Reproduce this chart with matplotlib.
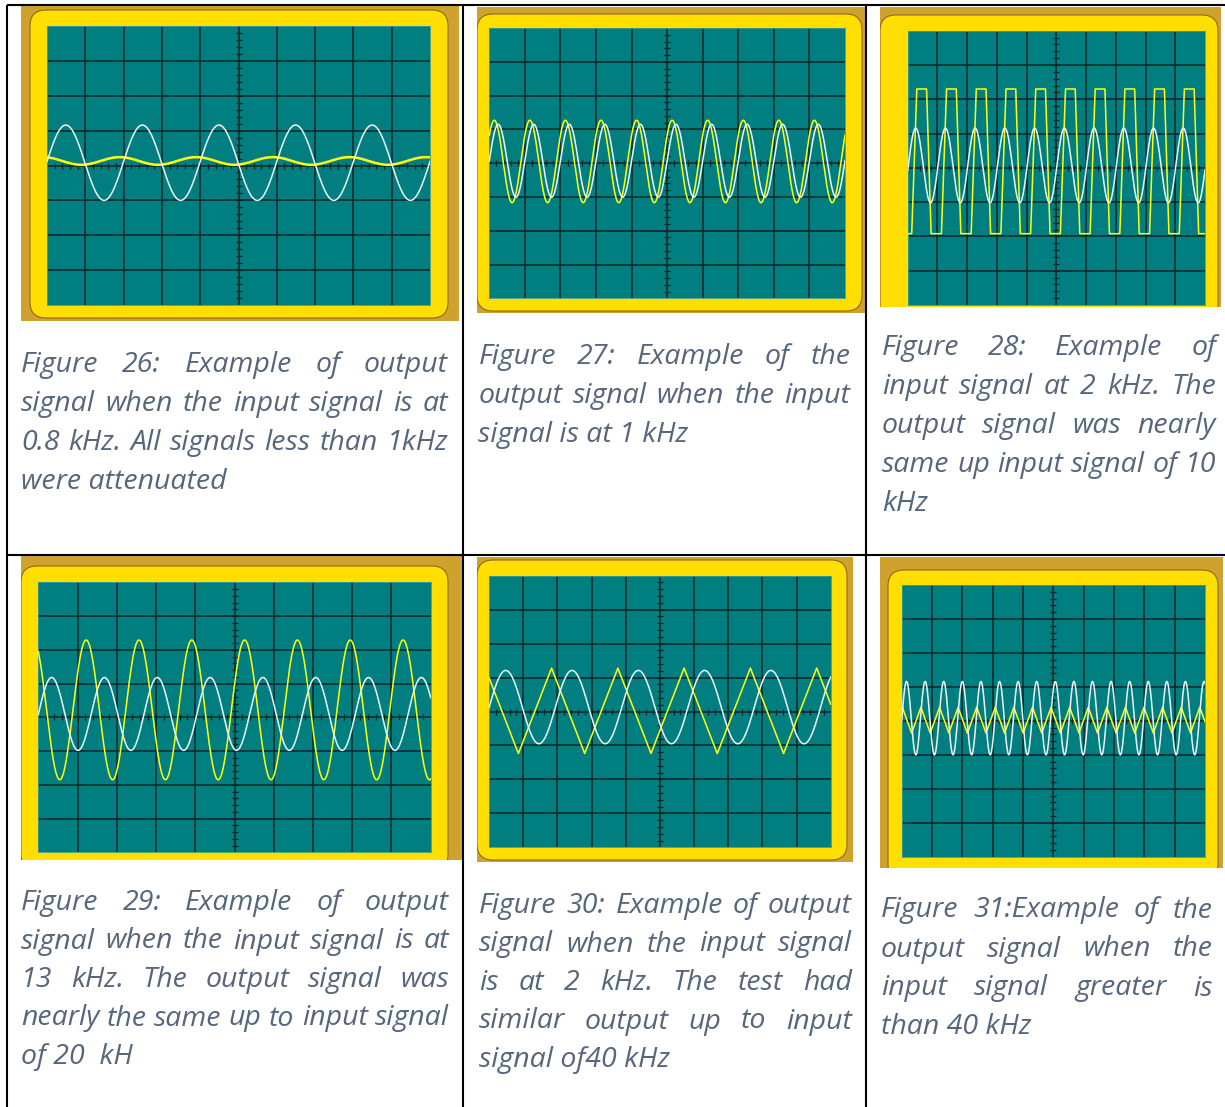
import numpy as np
import matplotlib
matplotlib.use("Agg")
import matplotlib.pyplot as plt
from matplotlib.patches import Rectangle, FancyBboxPatch
from matplotlib.font_manager import FontProperties

W, H = 1225, 1107

# ---------------- data (screen divisions) ----------------
figure_numbers = [26, 27, 28, 29, 30, 31]

# white trace (input signal): sine
white_amp = [1.08, 1.08, 1.09, 1.08, 1.08, 1.08]
white_offset = [0.08, 0.07, 0.07, 0.10, 0.13, 0.08]
white_period = [2.0, 1.0, 1.0, 1.346, 1.94, 0.613]
white_first_peak = [0.49, 0.25, 0.27, 0.34, 0.49, 0.16]

# yellow trace (output signal)
yellow_shape = ["sine", "sine", "trapezoid", "sine", "triangle", "triangle"]
yellow_amp = [0.11, 1.22, 2.11, 2.07, 1.26, 0.38]
yellow_offset = [0.13, 0.05, 0.19, 0.22, 0.02, 0.02]
yellow_period = [2.0, 1.0, 1.0, 1.346, 1.94, 0.613]
yellow_first_peak = [1.90, 0.14, 0.47, 1.22, 1.83, 0.02]

captions = [
    ["Figure 26: Example of output",
     "signal when the input signal is at",
     "0.8 kHz. All signals less than 1kHz",
     "were attenuated"],
    ["Figure 27: Example of the",
     "output signal when the input",
     "signal is at 1 kHz"],
    ["Figure 28: Example of",
     "input signal at 2 kHz.  The",
     "output signal was nearly",
     "same up input signal of 10",
     "kHz"],
    ["Figure 29: Example of output",
     "signal when the input signal is at",
     "13 kHz. The output signal was",
     "nearly the same up to input signal",
     "of 20  kH"],
    ["Figure 30: Example of output",
     "signal when the input signal",
     "is at 2 kHz. The test had",
     "similar output up to input",
     "signal of40 kHz"],
    ["Figure 31:Example of the",
     "output signal when the",
     "input signal greater is",
     "than 40 kHz"],
]

# ---------------- layout (pixels) ----------------
layout = [
    dict(gold=(21, 459, 6, 321), yellow=(30, 448, 10, 318), screen=(47, 430, 26, 305),
         text=(21, 448, 372, 39)),
    dict(gold=(477, 866, 7, 313), yellow=(477, 862, 14, 311), screen=(489.3, 845, 28, 298.3),
         text=(478.5, 850.5, 364, 39)),
    dict(gold=(880, 1221, 7, 307), yellow=(880, 1218, 15, 330), screen=(907.7, 1205, 30.7, 305),
         text=(882, 1216, 355, 39)),
    dict(gold=(21, 462, 556, 860), yellow=(21, 448, 566, 870), screen=(38.3, 430.7, 582.3, 852.3),
         text=(21, 449, 910, 38.5)),
    dict(gold=(477, 853, 557, 862), yellow=(477, 847, 560, 860), screen=(489, 830.7, 575.7, 847.3),
         text=(479, 852, 913, 38.5)),
    dict(gold=(880, 1223, 557, 868), yellow=(888, 1218, 570, 880), screen=(901.7, 1205, 585, 856.7),
         text=(881, 1213, 917.5, 39)),
]

GOLD = "#CFA12E"
GOLD_EDGE = "#8C6C1C"
YELLOW = "#FFDE00"
TEAL = "#017F80"
GRID = "#0E2626"
TRACE_W = "#EEF3F3"
TRACE_Y = "#FFFF10"
TEXT_C = "#56667B"


def shape_values(kind, u):
    u = np.mod(u, 1.0)
    if kind == "sine":
        return np.cos(2 * np.pi * u)
    if kind == "triangle":
        return np.interp(u, [0.0, 0.5, 1.0], [1.0, -1.0, 1.0])
    # trapezoid (clipped square)
    return np.interp(u, [0.0, 0.165, 0.315, 0.665, 0.835, 1.0],
                     [1.0, 1.0, -1.0, -1.0, 1.0, 1.0])


fig = plt.figure(figsize=(W / 100, H / 100), dpi=100)
fig.patch.set_facecolor("white")
bg = fig.add_axes([0, 0, 1, 1])
bg.set_xlim(0, W)
bg.set_ylim(H, 0)
bg.axis("off")

# table lines
tbl = dict(color="black", lw=1.5, solid_capstyle="butt", zorder=5)
bg.plot([7, W], [5, 5], **tbl)
bg.plot([7, W], [555, 555], **tbl)
for xv in [7, 463, 866]:
    bg.plot([xv, xv], [5, H], **tbl)

# frames and screens
for i, L in enumerate(layout):
    gx0, gx1, gy0, gy1 = L["gold"]
    gold = Rectangle((gx0, gy0), gx1 - gx0, gy1 - gy0, facecolor=GOLD,
                     edgecolor="none", zorder=1)
    bg.add_patch(gold)
    yx0, yx1, yy0, yy1 = L["yellow"]
    yel = FancyBboxPatch((yx0, yy0), yx1 - yx0, yy1 - yy0,
                         boxstyle="round,pad=0,rounding_size=16",
                         facecolor=YELLOW, edgecolor=GOLD_EDGE, lw=0.8, zorder=2)
    bg.add_patch(yel)
    yel.set_clip_path(gold)

    sx0, sx1, sy0, sy1 = L["screen"]
    ax = fig.add_axes([sx0 / W, 1 - sy1 / H, (sx1 - sx0) / W, (sy1 - sy0) / H])
    ax.set_facecolor(TEAL)
    ax.set_xlim(0, 10)
    ax.set_ylim(-4, 4)
    ax.set_xticks([])
    ax.set_yticks([])
    for s in ax.spines.values():
        s.set_color("#3C9C94")
        s.set_linewidth(0.6)
    for k in range(1, 10):
        ax.axvline(k, color=GRID, lw=1.1, zorder=1)
    for k in range(-3, 4):
        ax.axhline(k, color=GRID, lw=1.1, zorder=1)
    xt = np.arange(1, 50) * 0.2
    yt = np.arange(-19, 20) * 0.2
    ax.plot(xt, np.zeros_like(xt), ls="none", marker="|", ms=4, mew=0.9,
            color=GRID, zorder=1)
    ax.plot(np.full_like(yt, 5.0), yt, ls="none", marker="_", ms=4, mew=0.9,
            color=GRID, zorder=1)

    x = np.linspace(0, 10, 3000)
    yw = white_offset[i] + white_amp[i] * shape_values(
        "sine", (x - white_first_peak[i]) / white_period[i])
    yy = yellow_offset[i] + yellow_amp[i] * shape_values(
        yellow_shape[i], (x - yellow_first_peak[i]) / yellow_period[i])
    ylw = 1.8 if i == 0 else 1.1
    ax.plot(x, yy, color=TRACE_Y, lw=ylw, zorder=3)
    ax.plot(x, yw, color=TRACE_W, lw=1.1, zorder=4)

# captions (justified)
fp = FontProperties(family=["Open Sans", "DejaVu Sans"], style="italic",
                    weight="normal", size=20.5)
renderer = fig.canvas.get_renderer()


def width_of(s):
    t = bg.text(0, 0, s, fontproperties=fp)
    w = t.get_window_extent(renderer).width
    t.remove()
    return w


for i, L in enumerate(layout):
    tx0, tx1, base, step = L["text"]
    lines = captions[i]
    for j, line in enumerate(lines):
        yb = base + j * step
        if j == len(lines) - 1:
            bg.text(tx0, yb, line, fontproperties=fp, color=TEXT_C,
                    ha="left", va="baseline", zorder=6)
            continue
        words = line.split()
        ws = [width_of(w) for w in words]
        gap = (tx1 - tx0 - sum(ws)) / max(len(words) - 1, 1)
        xc = tx0
        for w, wd in zip(words, ws):
            bg.text(xc, yb, w, fontproperties=fp, color=TEXT_C,
                    ha="left", va="baseline", zorder=6)
            xc += wd + gap

fig.savefig("out.png", dpi=100, facecolor="white")
